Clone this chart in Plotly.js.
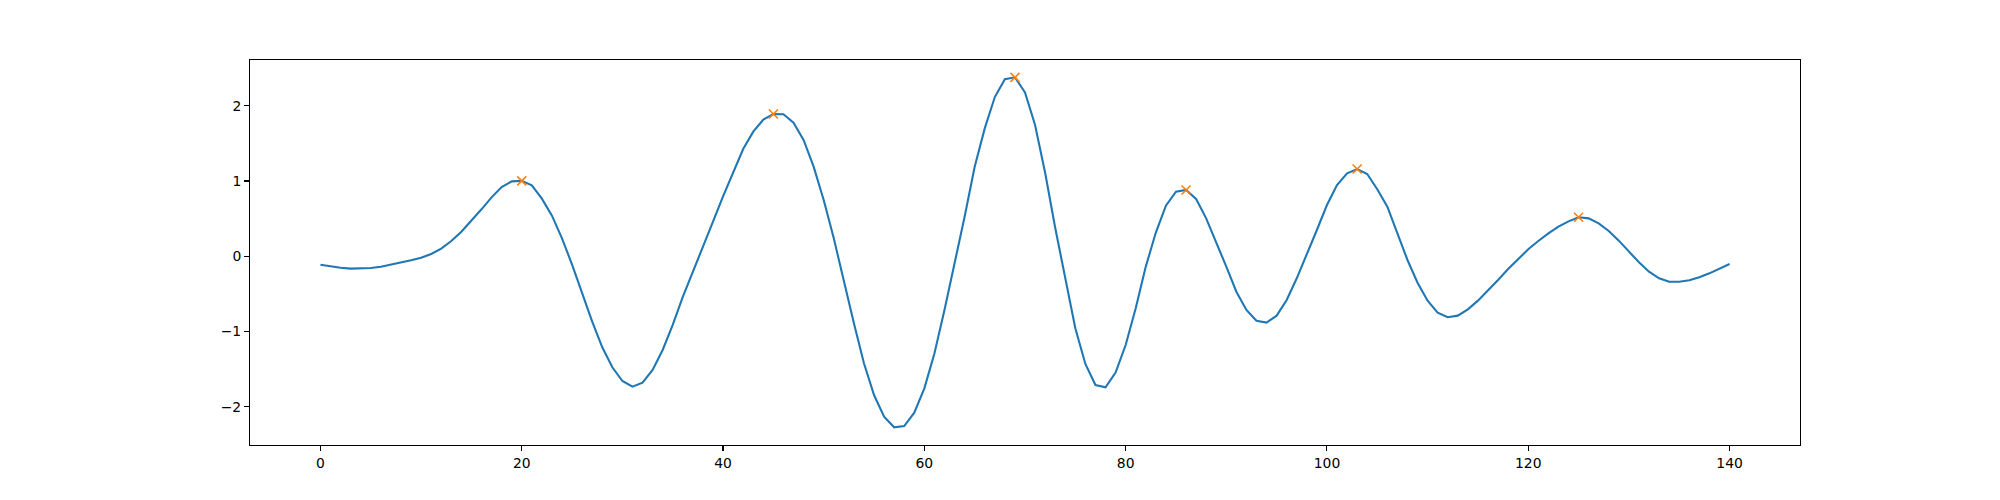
<!DOCTYPE html>
<html>
<head>
<meta charset="utf-8">
<script src="https://cdn.plot.ly/plotly-3.0.1.min.js"></script>
<style>html,body{margin:0;padding:0;background:#fff;}#chart{width:2000px;height:500px;}</style>
</head>
<body>
<div id="chart"></div>
<script>
// Signal values, x = 0..140
const signalY = [
  -0.111, -0.133, -0.151, -0.164, -0.164, -0.155, -0.138, -0.111, -0.084, -0.053,
  -0.018, 0.031, 0.101, 0.203, 0.327, 0.469, 0.624, 0.783, 0.920, 0.995,
  1.002, 0.942, 0.766, 0.540, 0.239, -0.111, -0.492, -0.868, -1.209, -1.474,
  -1.656, -1.731, -1.678, -1.510, -1.244, -0.912, -0.540, -0.215, 0.120, 0.460,
  0.795, 1.115, 1.425, 1.655, 1.815, 1.890, 1.886, 1.775, 1.545, 1.190,
  0.748, 0.239, -0.337, -0.890, -1.421, -1.842, -2.129, -2.271, -2.254, -2.077,
  -1.753, -1.290, -0.713, -0.115, 0.526, 1.190, 1.699, 2.115, 2.352, 2.377,
  2.175, 1.744, 1.110, 0.380, -0.314, -0.956, -1.430, -1.709, -1.740, -1.545,
  -1.178, -0.691, -0.137, 0.315, 0.673, 0.859, 0.881, 0.761, 0.504, 0.194,
  -0.137, -0.470, -0.713, -0.855, -0.881, -0.788, -0.580, -0.292, 0.017, 0.349,
  0.681, 0.947, 1.102, 1.159, 1.093, 0.890, 0.659, 0.305, -0.049, -0.350,
  -0.589, -0.748, -0.810, -0.788, -0.704, -0.589, -0.456, -0.315, -0.169, -0.036,
  0.093, 0.203, 0.305, 0.394, 0.464, 0.518, 0.504, 0.438, 0.336, 0.208,
  0.062, -0.080, -0.204, -0.292, -0.337, -0.337, -0.319, -0.279, -0.226, -0.164,
  -0.102
];
const signalX = signalY.map((_, i) => i);
// Detected peak indices
const peakIdx = [20, 45, 69, 86, 103, 125];
const peakX = peakIdx;
const peakY = peakIdx.map(i => signalY[i]);

const xTicks = [0, 20, 40, 60, 80, 100, 120, 140];
const yTicks = [-2, -1, 0, 1, 2];

const font = {family: 'DejaVu Sans, sans-serif', size: 13.9, color: '#000'};

const traces = [
  {x: signalX, y: signalY, type: 'scatter', mode: 'lines',
   line: {color: '#1f77b4', width: 2.08}, hoverinfo: 'skip'},
  {x: peakX, y: peakY, type: 'scatter', mode: 'markers',
   marker: {symbol: 'x-thin', size: 9, color: '#ff7f0e', line: {color: '#ff7f0e', width: 1.6}},
   hoverinfo: 'skip'}
];

const axisCommon = {
  showgrid: false, zeroline: false, showline: true, mirror: true,
  linecolor: '#000', linewidth: 1.1, ticks: 'outside', ticklen: 4.9,
  tickwidth: 1.1, tickcolor: '#000', tickfont: font
};

const layout = {
  width: 2000, height: 500,
  margin: {l: 250, r: 200, t: 60, b: 55, pad: 0},
  paper_bgcolor: '#fff', plot_bgcolor: '#fff',
  showlegend: false,
  font: font,
  xaxis: Object.assign({}, axisCommon, {range: [-7, 147], tickvals: xTicks, ticktext: xTicks.map(String)}),
  yaxis: Object.assign({}, axisCommon, {range: [-2.506, 2.607], tickvals: yTicks,
    ticktext: yTicks.map(v => v < 0 ? '\u2212' + Math.abs(v) : String(v))})
};

Plotly.newPlot('chart', traces, layout, {staticPlot: true, displayModeBar: false});
</script>
</body>
</html>
